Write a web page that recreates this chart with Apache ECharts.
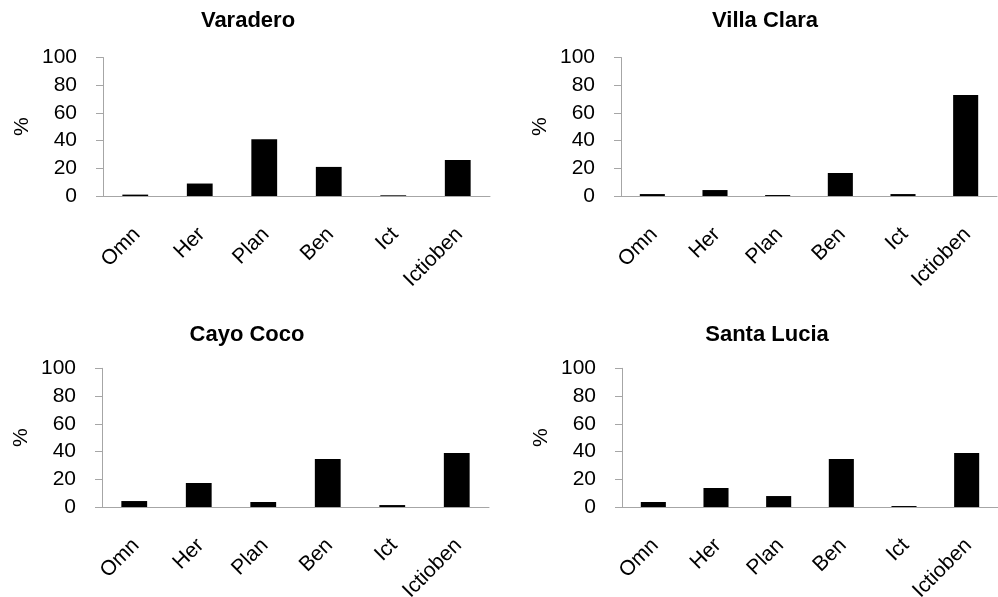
<!DOCTYPE html>
<html>
<head>
<meta charset="utf-8">
<title>Feeding guilds by site</title>
<script src="https://cdn.jsdelivr.net/npm/echarts@6/dist/echarts.min.js"></script>
<style>
  html, body { margin: 0; padding: 0; background: #fff; }
  #chart { width: 998px; height: 597px; }
</style>
</head>
<body>
<div id="chart"></div>
<script>
// Trophic guild categories shared by every site
const categories = ['Omn', 'Her', 'Plan', 'Ben', 'Ict', 'Ictioben'];

// Percentage of each guild per site
const siteNames = ['Varadero', 'Villa Clara', 'Cayo Coco', 'Santa Lucia'];
const varadero   = [1.0, 9.0, 41.0, 21.0, 0.5, 26.0];
const villaClara = [1.4, 4.3, 0.7, 16.6, 1.4, 73.0];
const cayoCoco   = [4.3, 17.3, 3.6, 34.6, 1.4, 38.9];
const santaLucia = [3.6, 13.7, 7.9, 34.6, 0.7, 38.9];
const siteValues = [varadero, villaClara, cayoCoco, santaLucia];

// Y-axis range and step
const yMin = 0, yMax = 100, yStep = 20;

const FONT = '"Liberation Sans", Arial, sans-serif';
const AXIS_GREY = '#a6a6a6';

// Panel placement: plot rectangles in pixels, and title centre
const panels = [
  { left: 103, right: 508, top: 57.5, bottom: 401, titleX: 248, titleY: 10 },
  { left: 621, right: 1,   top: 57.5, bottom: 401, titleX: 765, titleY: 10 },
  { left: 102, right: 509, top: 368.3, bottom: 90, titleX: 247, titleY: 324 },
  { left: 622, right: 0,   top: 368.3, bottom: 90, titleX: 767, titleY: 324 }
];

const chart = echarts.init(document.getElementById('chart'), null, { renderer: 'canvas' });

const option = {
  animation: false,
  backgroundColor: '#fff',
  title: siteNames.map((name, i) => ({
    text: name,
    left: panels[i].titleX,
    top: panels[i].titleY,
    padding: 0,
    textAlign: 'center',
    textStyle: { fontFamily: FONT, fontSize: 22, fontWeight: 'bold', color: '#000' }
  })),
  // Fixed plot rectangles; rotated labels may run past the canvas edge
  grid: panels.map(p => ({
    left: p.left, right: p.right, top: p.top, bottom: p.bottom,
    containLabel: false,
    outerBoundsMode: 'none'
  })),
  xAxis: panels.map((p, i) => ({
    type: 'category',
    gridIndex: i,
    data: categories,
    axisLine: { show: true, lineStyle: { color: AXIS_GREY, width: 1 } },
    axisTick: { show: false },
    splitLine: { show: false },
    axisLabel: {
      rotate: 45,
      interval: 0,
      margin: 22,
      verticalAlign: 'top',
      padding: [0, 8, 0, 0],
      hideOverlap: false,
      fontFamily: FONT,
      fontSize: 21,
      color: '#000'
    }
  })),
  yAxis: panels.map((p, i) => ({
    type: 'value',
    gridIndex: i,
    min: yMin,
    max: yMax,
    interval: yStep,
    name: '%',
    nameLocation: 'middle',
    nameGap: 70,
    nameRotate: 90,
    nameTextStyle: { fontFamily: FONT, fontSize: 21, color: '#000' },
    axisLine: { show: true, lineStyle: { color: AXIS_GREY, width: 1 } },
    axisTick: { show: true, inside: false, length: 7, lineStyle: { color: AXIS_GREY } },
    splitLine: { show: false },
    axisLabel: {
      margin: 26,
      fontFamily: FONT,
      fontSize: 21,
      color: '#000'
    }
  })),
  series: siteValues.map((vals, i) => ({
    type: 'bar',
    name: siteNames[i],
    xAxisIndex: i,
    yAxisIndex: i,
    data: vals,
    barWidth: '40%',
    itemStyle: { color: '#000' }
  }))
};

chart.setOption(option);
</script>
</body>
</html>
